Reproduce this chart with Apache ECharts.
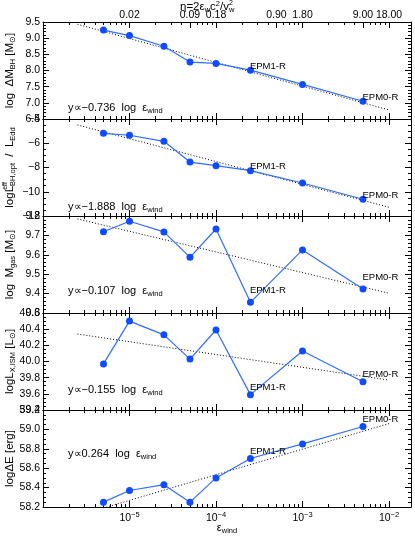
<!DOCTYPE html>
<html>
<head>
<meta charset="utf-8">
<script src="https://cdn.jsdelivr.net/npm/echarts@6/dist/echarts.min.js"></script>
<style>
html, body { margin: 0; padding: 0; background: #fff; }
#chart { width: 415px; height: 536px; }
</style>
</head>
<body>
<div id="chart"></div>
<script>
// wind efficiency of the runs
var epsWind = [5e-6, 1e-5, 2.5e-5, 5e-5, 1e-4, 2.5e-4, 1e-3, 5e-3];
// one array per panel, top to bottom
var dMbh  = [9.25, 9.08, 8.75, 8.26, 8.22, 8.01, 7.57, 7.05];
var lBhEff = [-5.18, -5.34, -5.84, -7.55, -7.85, -8.26, -9.28, -10.62];
var mGas  = [9.719, 9.773, 9.718, 9.587, 9.733, 9.355, 9.625, 9.424];
var lxIsm = [39.97, 40.50, 40.33, 40.03, 40.39, 39.59, 40.13, 39.75];
var dE    = [58.25, 58.37, 58.43, 58.25, 58.50, 58.70, 58.85, 59.03];

// power-law fits, end points
var fitEps  = [2.5e-6, 1e-2];
var fitMbh  = [9.43, 6.78];
var fitLbh  = [-4.49, -11.28];
var fitMgas = [9.785, 9.402];
var fitLx   = [40.34, 39.77];
var fitE    = [58.11, 59.06];
var fitSlope = ['−0.736', '−1.888', '−0.107', '−0.155', '0.264'];

var runLabels = ['', '', '', '', '', 'EPM1-R', '', 'EPM0-R'];

// top axis: eta = 2 eps c^2 / v_w^2
var etaTicks  = [1e-5, 5e-5, 1e-4, 5e-4, 1e-3, 5e-3, 1e-2];
var etaLabels = ['0.02', '0.09', '0.18', '0.90', '1.80', '9.00', '18.00'];
var xMajor = [-6, -5, -4, -3, -2];
var xLabels = [-5, -4, -3, -2];

var lg = function (v) { return Math.log10(v); };
var xMinorLog = [];
for (var d = -6; d <= -2; d++) {
	for (var m = 2; m <= 9; m++) {
		var v = d + lg(m);
		if (v < -1.746) xMinorLog.push(v);
	}
}
var etaLog = etaTicks.map(lg);

var FONT = 'Liberation Sans';
var BLUE_LINE = '#2f6dff';
var BLUE_PT = '#0f4cff';

var panels = [
	{ vals: dMbh, fit: fitMbh, min: 6.5, max: 9.5, interval: 0.5, minor: 5, lblOff: -4,
	  name: 'log  ΔM{sub|BH} [M{sub|⊙}]', noteY: 85 },
	{ vals: lBhEff, fit: fitLbh, min: -12, max: -4, interval: 2, minor: 4, lblOff: -4,
	  name: 'logL{sw|eff}{sub|BH,opt}  /  L{sub|Edd}', noteY: 87 },
	{ vals: mGas, fit: fitMgas, min: 9.3, max: 9.8, interval: 0.1, minor: 5, lblOff: -12,
	  name: 'log  M{sub|gas} [M{sub|⊙}]', noteY: 74 },
	{ vals: lxIsm, fit: fitLx, min: 39.4, max: 40.6, interval: 0.2, minor: 4, lblOff: -7,
	  name: 'logL{sub|X,ISM} [L{sub|⊙}]', noteY: 76 },
	{ vals: dE, fit: fitE, min: 58.2, max: 59.2, interval: 0.2, minor: 4, lblOff: -7,
	  name: 'logΔE [erg]', noteY: 43 }
];

var richSub = {
	sub: { fontSize: 7.5, fontFamily: FONT, color: '#000', verticalAlign: 'bottom', lineHeight: 8 },
	sup: { fontSize: 7.5, fontFamily: FONT, color: '#000', verticalAlign: 'top', lineHeight: 8 },
	sw: { fontSize: 7, fontFamily: FONT, color: '#000', verticalAlign: 'top', lineHeight: 8, width: 0.01 }
};

var TOP = 22, H = 97, LEFT = 43, W = 368;
var grids = [], xAxes = [], yAxes = [], series = [], graphics = [];

function xAxisBase(i, pos) {
	return {
		gridIndex: i, type: 'value', position: pos, min: -6, max: -1.746,
		splitLine: { show: false },
		axisLine: { show: false },
		axisTick: { show: true, inside: true, length: 6, lineStyle: { color: '#000' } },
		axisLabel: { show: false }
	};
}

panels.forEach(function (p, i) {
	grids.push({ left: LEFT, width: W, top: TOP + i * H, height: H, outerBoundsMode: 'none' });

	var xb = xAxisBase(i, 'bottom');
	xb.axisLine = { show: true, lineStyle: { color: '#000', width: 1 } };
	xb.axisTick.customValues = xMajor;
	if (i === 4) {
		xb.axisLabel = {
			show: true, customValues: xLabels, color: '#000', fontFamily: FONT, fontSize: 10.5,
			margin: 4, lineHeight: 15,
			formatter: function (v) { return '10{sup|−' + Math.round(-v) + '}'; },
			rich: richSub
		};
		xb.name = 'ε{sub|wind}';
		xb.nameLocation = 'middle';
		xb.nameGap = 13;
		xb.nameMoveOverlap = false;
		xb.nameTextStyle = { color: '#000', fontFamily: FONT, fontSize: 11, lineHeight: 15, rich: richSub };
	}
	xAxes.push(xb);

	var xbm = xAxisBase(i, 'bottom');
	xbm.axisTick.length = 3;
	xbm.axisTick.customValues = xMinorLog;
	xAxes.push(xbm);

	var xt = xAxisBase(i, 'top');
	xt.axisLine = { show: true, lineStyle: { color: '#000', width: 1 } };
	xt.axisTick.customValues = i === 0 ? etaLog : xMajor;
	if (i === 0) {
		xt.axisLabel = {
			show: true, customValues: etaLog, color: '#000', fontFamily: FONT, fontSize: 10.5, margin: 1,
			formatter: function (v) {
				var k = 0;
				etaLog.forEach(function (e, j) { if (Math.abs(e - v) < Math.abs(etaLog[k] - v)) k = j; });
				return etaLabels[k];
			}
		};
	}
	xAxes.push(xt);

	var xtm = xAxisBase(i, 'top');
	xtm.axisTick.length = 3;
	xtm.axisTick.customValues = xMinorLog;
	xAxes.push(xtm);

	[ 'left', 'right' ].forEach(function (pos) {
		var y = {
			gridIndex: i, type: 'value', position: pos,
			min: p.min, max: p.max, interval: p.interval,
			splitLine: { show: false },
			axisLine: { show: true, lineStyle: { color: '#000', width: 1 } },
			axisTick: { show: true, inside: true, length: 6, lineStyle: { color: '#000' } },
			minorTick: { show: true, splitNumber: p.minor, length: 3, lineStyle: { color: '#000' } },
			axisLabel: { show: pos === 'left', color: '#000', fontFamily: FONT, fontSize: 10.5, margin: 3,
				formatter: function (v) { return v.toFixed(1); } }
		};
		if (pos === 'left') {
			y.name = p.name;
			y.nameLocation = 'middle';
			y.nameRotate = 90;
			y.nameGap = 26;
			y.nameMoveOverlap = false;
			y.nameTextStyle = { color: '#000', fontFamily: FONT, fontSize: 11.5, lineHeight: 15, rich: richSub };
			if (i === 1) y.axisLabel.formatter = function (v) { return String(v).replace('-', '−'); };
		}
		yAxes.push(y);
	});

	series.push({
		type: 'line', xAxisIndex: i * 4, yAxisIndex: i * 2,
		data: [[lg(fitEps[0]), p.fit[0]], [lg(fitEps[1]), p.fit[1]]],
		symbol: 'none', lineStyle: { color: '#000', width: 1, type: [1, 2] },
		silent: true, z: 2
	});

	series.push({
		type: 'line', xAxisIndex: i * 4, yAxisIndex: i * 2,
		data: epsWind.map(function (e, j) {
			var item = { value: [lg(e), p.vals[j]] };
			if (runLabels[j]) {
				item.label = {
					show: true, formatter: runLabels[j], position: 'right', distance: 0,
					offset: [-4, p.lblOff], color: '#000', fontFamily: FONT, fontSize: 9.5
				};
			}
			return item;
		}),
		symbol: 'circle', symbolSize: 7,
		lineStyle: { color: BLUE_LINE, width: 1.2 },
		itemStyle: { color: BLUE_PT },
		z: 3
	});

	graphics.push({
		type: 'text', left: 68, top: TOP + i * H + p.noteY - 7,
		style: {
			text: 'y∝' + fitSlope[i] + '  log  ε{sub|wind}',
			fontFamily: FONT, fontSize: 11, fill: '#000', lineHeight: 15, rich: richSub
		}
	});
});

graphics.push({
	type: 'text', left: 180, top: 0,
	style: {
		text: 'η=2ε{sub|w}c{sup|2}/v{sw|2}{sub|w}',
		fontFamily: FONT, fontSize: 11.5, fill: '#000', lineHeight: 14, rich: richSub
	}
});

var chart = echarts.init(document.getElementById('chart'));
chart.setOption({
	animation: false,
	backgroundColor: '#fff',
	grid: grids,
	xAxis: xAxes,
	yAxis: yAxes,
	series: series,
	graphic: graphics
});
</script>
</body>
</html>
